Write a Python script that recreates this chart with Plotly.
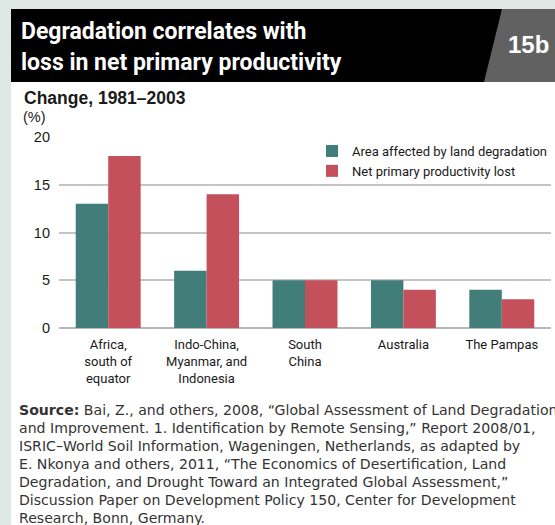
import plotly.graph_objects as go

# Regions and values (% change, 1981-2003)
regions = [
    "Africa,<br>south of<br>equator",
    "Indo-China,<br>Myanmar, and<br>Indonesia",
    "South<br>China",
    "Australia",
    "The Pampas",
]
area_degraded = [13, 6, 5, 5, 4]
npp_lost = [18, 14, 5, 4, 3]
y_ticks = [0, 5, 10, 15, 20]

source_lines = [
    "<b>Source:</b> Bai, Z., and others, 2008, “Global Assessment of Land Degradation",
    "and Improvement. 1. Identification by Remote Sensing,” Report 2008/01,",
    "ISRIC–World Soil Information, Wageningen, Netherlands, as adapted by",
    "E. Nkonya and others, 2011, “The Economics of Desertification, Land",
    "Degradation, and Drought Toward an Integrated Global Assessment,”",
    "Discussion Paper on Development Policy 150, Center for Development",
    "Research, Bonn, Germany.",
]

GREEN = "#417e79"
RED = "#c4505c"
STRIP = "#dfe8e4"
COND = "Roboto, Liberation Sans, sans-serif"
SANS = "Liberation Sans, Arial, sans-serif"

W, H = 555, 525
L, R, T, B = 59, 551, 137, 328  # plot area in pixels


def px(x):
    return (x - L) / (R - L)


def py(y):
    return (B - y) / (B - T)


fig = go.Figure()
fig.add_trace(go.Bar(name="Area affected by land degradation", x=regions,
                     y=area_degraded, marker_color=GREEN, marker_line_width=0))
fig.add_trace(go.Bar(name="Net primary productivity lost", x=regions,
                     y=npp_lost, marker_color=RED, marker_line_width=0))

shapes = [
    # white panel
    dict(type="rect", xref="paper", yref="paper", x0=px(11), x1=px(W + 5),
         y0=py(82), y1=py(H + 5), fillcolor="white", line_width=0, layer="below"),
    # black title bar
    dict(type="rect", xref="paper", yref="paper", x0=px(11), x1=px(W + 5),
         y0=py(82), y1=py(9), fillcolor="black", line_width=0, layer="below"),
    # grey number tab
    dict(type="path", xref="paper", yref="paper",
         path=f"M{px(502)},{py(9)} L{px(W + 5)},{py(9)} L{px(W + 5)},{py(82)} L{px(484)},{py(82)} Z",
         fillcolor="#616161", line_width=0, layer="below"),
]

annotations = [
    dict(text="<b>Degradation correlates with</b>", x=px(19), y=py(32),
         font=dict(family=COND, size=23, color="white")),
    dict(text="<b>loss in net primary productivity</b>", x=px(19), y=py(63),
         font=dict(family=COND, size=23, color="white")),
    dict(text="<b>15b</b>", x=px(506), y=py(45),
         font=dict(family=SANS, size=24, color="white")),
    dict(text="<b>Change, 1981–2003</b>", x=px(22), y=py(98),
         font=dict(family=SANS, size=17.5, color="#1a1a1a")),
    dict(text="(%)", x=px(21), y=py(117),
         font=dict(family=SANS, size=14.5, color="#1a1a1a")),
]
# source note, one annotation per line for tight leading
for i, line in enumerate(source_lines):
    annotations.append(dict(text=line, x=px(17), y=py(410 + 18 * i),
                            font=dict(family="DejaVu Sans, sans-serif",
                                      size=14.1, color="#333333")))
for a in annotations:
    a.setdefault("yanchor", "middle")
    a.update(xref="paper", yref="paper", xanchor="left", showarrow=False)

fig.update_layout(
    width=W, height=H,
    margin=dict(l=L, r=W - R, t=T, b=H - B, pad=0, autoexpand=False),
    paper_bgcolor=STRIP, plot_bgcolor="rgba(0,0,0,0)",
    barmode="group", bargap=0.34, bargroupgap=0,
    shapes=shapes, annotations=annotations,
    legend=dict(x=px(312), y=py(136), xanchor="left", yanchor="top",
                bgcolor="rgba(0,0,0,0)", tracegroupgap=0, itemwidth=30,
                font=dict(family=COND, size=13, color="#1a1a1a")),
    xaxis=dict(tickfont=dict(family=COND, size=13, color="#1a1a1a"),
               ticks="", showline=False, fixedrange=True,
               ticklabelstandoff=7),
    yaxis=dict(range=[0, 20], tickvals=y_ticks, ticks="",
               tickfont=dict(family=SANS, size=14.5, color="#1a1a1a"),
               showgrid=True, gridcolor="#c4c4c4", gridwidth=1.5,
               zeroline=True, zerolinecolor="#b8b8b8", zerolinewidth=1.5,
               ticklabelstandoff=8, fixedrange=True),
)

fig.write_html("out.html")
